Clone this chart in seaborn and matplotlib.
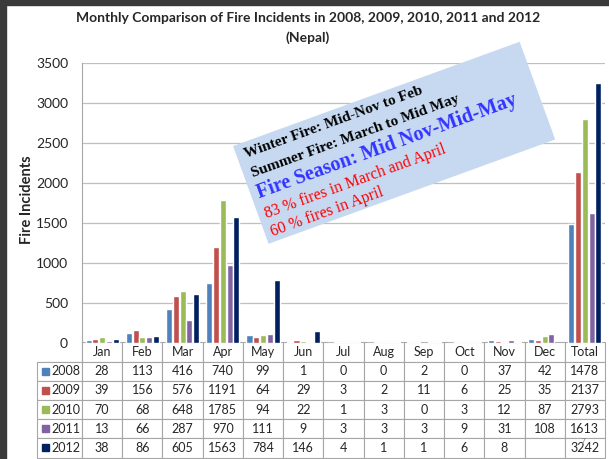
import numpy as np
import pandas as pd
import matplotlib.pyplot as plt
import matplotlib.patches as mpatches
import seaborn as sns

months = ['Jan', 'Feb', 'Mar', 'Apr', 'May', 'Jun', 'Jul', 'Aug', 'Sep', 'Oct', 'Nov', 'Dec', 'Total']
years = ['2008', '2009', '2010', '2011', '2012']
fires_2008 = [28, 113, 416, 740, 99, 1, 0, 0, 2, 0, 37, 42, 1478]
fires_2009 = [39, 156, 576, 1191, 64, 29, 3, 2, 11, 6, 25, 35, 2137]
fires_2010 = [70, 68, 648, 1785, 94, 22, 1, 3, 0, 3, 12, 87, 2793]
fires_2011 = [13, 66, 287, 970, 111, 9, 3, 3, 3, 9, 31, 108, 1613]
fires_2012 = [38, 86, 605, 1563, 784, 146, 4, 1, 1, 6, 8, np.nan, 3242]
year_colors = ['#4F81BD', '#C0504D', '#9BBB59', '#8064A2', '#002060']

series = [fires_2008, fires_2009, fires_2010, fires_2011, fires_2012]
df = pd.DataFrame({
    'month': months * len(years),
    'year': np.repeat(years, len(months)),
    'fires': np.concatenate(series),
})

sns.set_style('white')
plt.rcParams['font.family'] = ['Lato', 'DejaVu Sans']

W, H = 609, 459
fig = plt.figure(figsize=(W / 100, H / 100), dpi=100)
ax = fig.add_axes([82 / W, (H - 342.5) / H, 523 / W, 280 / H])

sns.barplot(data=df, x='month', y='fires', hue='year', order=months, hue_order=years,
            palette=year_colors, saturation=1, width=0.84, gap=0.1, errorbar=None,
            legend=False, ax=ax)

ax.set_ylim(0, 3500)
ax.set_yticks(range(0, 3501, 500))
ax.yaxis.grid(True, color='#BFBFBF', lw=0.9)
ax.set_axisbelow(True)
ax.set_xlabel('')
ax.tick_params(axis='x', length=0, labelbottom=False)
ax.tick_params(axis='y', length=0, pad=10, labelsize=10)
for s in ['top', 'right', 'bottom']:
    ax.spines[s].set_visible(False)
ax.spines['left'].set_color('#A6A6A6')
ax.set_ylabel('Fire Incidents', fontweight='bold', fontsize=10.5)
ax.yaxis.set_label_coords((34 - 82) / 523, (342.5 - 200) / 280)

# data table under the bars
def fmt(v):
    return '' if np.isnan(v) else str(int(v))

cell_text = [[''] + months] + [[y] + [fmt(v) for v in vals] for y, vals in zip(years, series)]
tbl = ax.table(cellText=cell_text, colWidths=[45] + [523 / 13] * 13, cellLoc='center',
               bbox=[-45 / 523, -115 / 280, 568 / 523, 115 / 280])
tbl.auto_set_font_size(False)
tbl.set_fontsize(9)
for (r, c), cell in tbl.get_celld().items():
    cell.set_edgecolor('#A6A6A6')
    cell.set_linewidth(0.8)
    if c == 0 and r > 0:
        cell.get_text().set_ha('right')
        cell.PAD = 0.04
tbl[0, 0].visible_edges = 'BR'

row_h = 115 / 6
for i, col in enumerate(year_colors):
    yc = 342.5 + row_h * (i + 1.5)
    fig.add_artist(mpatches.Rectangle((42 / W, (H - yc - 3.5) / H), 7 / W, 7 / H,
                                      transform=fig.transFigure, color=col))

fig.text(583 / W, 1 - 441 / H, '7', fontsize=6, color='#808080', ha='center', va='center')

# title
fig.text(308 / W, 1 - 18 / H, 'Monthly Comparison of Fire Incidents in 2008, 2009, 2010, 2011 and 2012',
         ha='center', va='center', fontweight='bold', fontsize=10)
fig.text(308 / W, 1 - 38 / H, '(Nepal)', ha='center', va='center', fontweight='bold', fontsize=10)

# rotated note box
theta = np.deg2rad(20)
u = np.array([np.cos(theta), np.sin(theta)])
v = np.array([-np.sin(theta), np.cos(theta)])
bl = np.array([268.6, 215.2])
bw, bh = 305, 104
corners = [bl, bl + bw * u, bl + bw * u + bh * v, bl + bh * v]
poly = mpatches.Polygon([(p[0] / W, p[1] / H) for p in corners], closed=True,
                        transform=fig.transFigure, facecolor='#C6D9F1', edgecolor='none')
fig.add_artist(poly)

notes = [
    ('Winter Fire: Mid-Nov to Feb', 8, 88, 'black', 'bold', 11),
    ('Summer Fire: March to Mid May', 8, 68, 'black', 'bold', 11),
    ('Fire Season: Mid Nov-Mid-May', 7, 46, '#3333FF', 'bold', 14.5),
    ('83 % fires in March and April', 7, 25, '#FF0000', 'normal', 11.5),
    ('60 % fires in April', 7, 6, '#FF0000', 'normal', 11.5),
]
for txt, du, dv, col, wt, fs in notes:
    p = bl + du * u + dv * v
    fig.text(p[0] / W, p[1] / H, txt, rotation=20, rotation_mode='anchor', ha='left',
             va='baseline', color=col, fontweight=wt, fontsize=fs, family='Liberation Serif')

# dark frame edges
fig.add_artist(mpatches.Rectangle((0, 0), 6 / W, 1, transform=fig.transFigure, color='#3a3a3a'))
fig.add_artist(mpatches.Rectangle((0, 1 - 5 / H), 1, 5 / H, transform=fig.transFigure, color='#3a3a3a'))

fig.savefig('out.png', dpi=100)
